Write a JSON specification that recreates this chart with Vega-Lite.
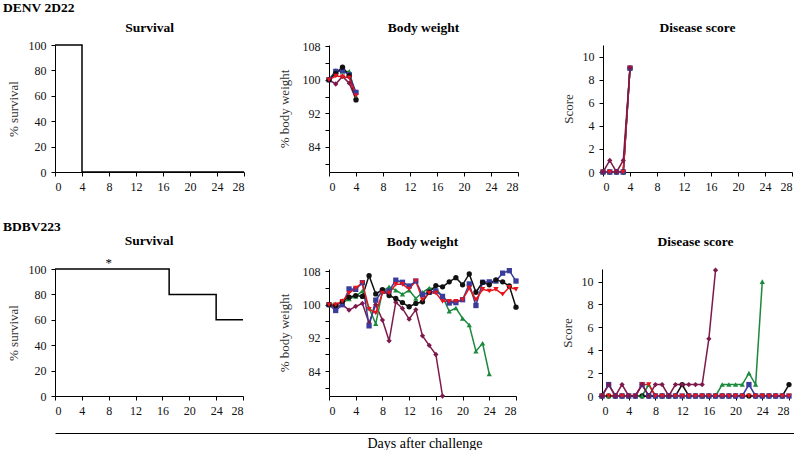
{
  "$schema": "https://vega.github.io/schema/vega-lite/v6.json",
  "padding": {"left": 3, "top": 1, "right": 0, "bottom": 0},
  "config": {
    "font": "Liberation Serif",
    "view": {"stroke": null},
    "axis": {"grid": false, "domainColor": "#000", "tickColor": "#000", "labelColor": "#111", "labelFont": "Liberation Serif", "labelFontSize": 12, "titleFont": "Liberation Serif", "titleFontSize": 13, "titleFontWeight": "normal", "titleColor": "#333", "tickSize": 4, "labelPadding": 5, "domainWidth": 1},
    "style": {"guide-label": {"font": "Liberation Serif"}, "guide-title": {"font": "Liberation Serif"}, "group-title": {"font": "Liberation Serif"}},
    "title": {"font": "Liberation Serif", "fontSize": 13.5, "fontWeight": "bold", "color": "#000", "offset": 5}
  },
  "datasets": {
    "sv1": [{"day": 0, "pct": 100}, {"day": 4, "pct": 0}, {"day": 28, "pct": 0}],
    "sv2": [{"day": 0, "pct": 100}, {"day": 17, "pct": 80}, {"day": 24, "pct": 60}, {"day": 28, "pct": 60}],
    "star": [{"day": 8, "pct": 100, "label": "*"}],
    "bw1": [
      {"mouse": "M5", "day": 0, "weight": 100}, {"mouse": "M5", "day": 1, "weight": 99}, {"mouse": "M5", "day": 2, "weight": 100.8}, {"mouse": "M5", "day": 3, "weight": 99.2}, {"mouse": "M5", "day": 4, "weight": 95.3},
      {"mouse": "M3", "day": 0, "weight": 100}, {"mouse": "M3", "day": 1, "weight": 102.2}, {"mouse": "M3", "day": 2, "weight": 102}, {"mouse": "M3", "day": 3, "weight": 102}, {"mouse": "M3", "day": 4, "weight": 96},
      {"mouse": "M2", "day": 0, "weight": 100}, {"mouse": "M2", "day": 1, "weight": 102}, {"mouse": "M2", "day": 2, "weight": 102.2}, {"mouse": "M2", "day": 3, "weight": 101.2}, {"mouse": "M2", "day": 4, "weight": 97}, 
      {"mouse": "M1", "day": 0, "weight": 100}, {"mouse": "M1", "day": 1, "weight": 101.5}, {"mouse": "M1", "day": 2, "weight": 103}, {"mouse": "M1", "day": 3, "weight": 101}, {"mouse": "M1", "day": 4, "weight": 95.2},
      {"mouse": "M4", "day": 0, "weight": 100}, {"mouse": "M4", "day": 1, "weight": 100.9}, {"mouse": "M4", "day": 2, "weight": 100.7}, {"mouse": "M4", "day": 3, "weight": 100.5}, {"mouse": "M4", "day": 4, "weight": 96.2}
    ],
    "ds1": [
      {"mouse": "M1", "day": 0, "score": 0}, {"mouse": "M1", "day": 1, "score": 0}, {"mouse": "M1", "day": 2, "score": 0}, {"mouse": "M1", "day": 3, "score": 0}, {"mouse": "M1", "day": 4, "score": 9},
      {"mouse": "M3", "day": 0, "score": 0}, {"mouse": "M3", "day": 1, "score": 0}, {"mouse": "M3", "day": 2, "score": 0}, {"mouse": "M3", "day": 3, "score": 0}, {"mouse": "M3", "day": 4, "score": 9},
      {"mouse": "M2", "day": 0, "score": 0}, {"mouse": "M2", "day": 1, "score": 0}, {"mouse": "M2", "day": 2, "score": 0}, {"mouse": "M2", "day": 3, "score": 0}, {"mouse": "M2", "day": 4, "score": 9},
      {"mouse": "M4", "day": 0, "score": 0}, {"mouse": "M4", "day": 1, "score": 0}, {"mouse": "M4", "day": 2, "score": 0}, {"mouse": "M4", "day": 3, "score": 0}, {"mouse": "M4", "day": 4, "score": 9},
      {"mouse": "M5", "day": 0, "score": 0}, {"mouse": "M5", "day": 1, "score": 1}, {"mouse": "M5", "day": 2, "score": 0}, {"mouse": "M5", "day": 3, "score": 1}, {"mouse": "M5", "day": 4, "score": 9}
    ],
    "bw2": [
      {"mouse": "M5", "day": 0, "weight": 100}, {"mouse": "M5", "day": 1, "weight": 99.4}, {"mouse": "M5", "day": 2, "weight": 100}, {"mouse": "M5", "day": 3, "weight": 98.7}, {"mouse": "M5", "day": 4, "weight": 99.6}, {"mouse": "M5", "day": 5, "weight": 100.3}, {"mouse": "M5", "day": 6, "weight": 95.6}, {"mouse": "M5", "day": 7, "weight": 100}, {"mouse": "M5", "day": 8, "weight": 96.3}, {"mouse": "M5", "day": 9, "weight": 91.3}, {"mouse": "M5", "day": 10, "weight": 100.6}, {"mouse": "M5", "day": 11, "weight": 99.1}, {"mouse": "M5", "day": 12, "weight": 96.5}, {"mouse": "M5", "day": 13, "weight": 98.8}, {"mouse": "M5", "day": 14, "weight": 92.5}, {"mouse": "M5", "day": 15, "weight": 90.2}, {"mouse": "M5", "day": 16, "weight": 88}, {"mouse": "M5", "day": 17, "weight": 78},
      {"mouse": "M3", "day": 0, "weight": 100}, {"mouse": "M3", "day": 1, "weight": 100.2}, {"mouse": "M3", "day": 2, "weight": 100.4}, {"mouse": "M3", "day": 3, "weight": 101.4}, {"mouse": "M3", "day": 4, "weight": 102}, {"mouse": "M3", "day": 5, "weight": 103.3}, {"mouse": "M3", "day": 6, "weight": 99.2}, {"mouse": "M3", "day": 7, "weight": 95.4}, {"mouse": "M3", "day": 8, "weight": 103.2}, {"mouse": "M3", "day": 9, "weight": 104.3}, {"mouse": "M3", "day": 10, "weight": 103.5}, {"mouse": "M3", "day": 11, "weight": 102.5}, {"mouse": "M3", "day": 12, "weight": 103.5}, {"mouse": "M3", "day": 13, "weight": 101.5}, {"mouse": "M3", "day": 14, "weight": 103}, {"mouse": "M3", "day": 15, "weight": 104}, {"mouse": "M3", "day": 16, "weight": 103.8}, {"mouse": "M3", "day": 17, "weight": 102}, {"mouse": "M3", "day": 18, "weight": 98.4}, {"mouse": "M3", "day": 19, "weight": 99.2}, {"mouse": "M3", "day": 20, "weight": 96.7}, {"mouse": "M3", "day": 21, "weight": 95.1}, {"mouse": "M3", "day": 22, "weight": 88.8}, {"mouse": "M3", "day": 23, "weight": 90.7}, {"mouse": "M3", "day": 24, "weight": 83.3},
      {"mouse": "M2", "day": 0, "weight": 100}, {"mouse": "M2", "day": 1, "weight": 98.6}, {"mouse": "M2", "day": 2, "weight": 100}, {"mouse": "M2", "day": 3, "weight": 103.8}, {"mouse": "M2", "day": 4, "weight": 103.7}, {"mouse": "M2", "day": 5, "weight": 105.3}, {"mouse": "M2", "day": 6, "weight": 94.9}, {"mouse": "M2", "day": 7, "weight": 101.1}, {"mouse": "M2", "day": 8, "weight": 103.3}, {"mouse": "M2", "day": 9, "weight": 103.3}, {"mouse": "M2", "day": 10, "weight": 105.9}, {"mouse": "M2", "day": 11, "weight": 105.4}, {"mouse": "M2", "day": 12, "weight": 104.5}, {"mouse": "M2", "day": 13, "weight": 105.7}, {"mouse": "M2", "day": 14, "weight": 102.4}, {"mouse": "M2", "day": 15, "weight": 103}, {"mouse": "M2", "day": 16, "weight": 103.3}, {"mouse": "M2", "day": 17, "weight": 102}, {"mouse": "M2", "day": 18, "weight": 100.4}, {"mouse": "M2", "day": 19, "weight": 100.5}, {"mouse": "M2", "day": 20, "weight": 101.2}, {"mouse": "M2", "day": 21, "weight": 105}, {"mouse": "M2", "day": 22, "weight": 99.8}, {"mouse": "M2", "day": 23, "weight": 105.4}, {"mouse": "M2", "day": 24, "weight": 105.5}, {"mouse": "M2", "day": 25, "weight": 105.7}, {"mouse": "M2", "day": 26, "weight": 107.6}, {"mouse": "M2", "day": 27, "weight": 108.2}, {"mouse": "M2", "day": 28, "weight": 105.7},
      {"mouse": "M1", "day": 0, "weight": 100}, {"mouse": "M1", "day": 1, "weight": 99.8}, {"mouse": "M1", "day": 2, "weight": 100.8}, {"mouse": "M1", "day": 3, "weight": 101.8}, {"mouse": "M1", "day": 4, "weight": 102.2}, {"mouse": "M1", "day": 5, "weight": 102}, {"mouse": "M1", "day": 6, "weight": 107}, {"mouse": "M1", "day": 7, "weight": 102.6}, {"mouse": "M1", "day": 8, "weight": 103.6}, {"mouse": "M1", "day": 9, "weight": 102.2}, {"mouse": "M1", "day": 10, "weight": 101.5}, {"mouse": "M1", "day": 11, "weight": 100.5}, {"mouse": "M1", "day": 12, "weight": 99.5}, {"mouse": "M1", "day": 13, "weight": 100.3}, {"mouse": "M1", "day": 14, "weight": 100.7}, {"mouse": "M1", "day": 15, "weight": 103}, {"mouse": "M1", "day": 16, "weight": 104.6}, {"mouse": "M1", "day": 17, "weight": 104.3}, {"mouse": "M1", "day": 18, "weight": 105.5}, {"mouse": "M1", "day": 19, "weight": 106.5}, {"mouse": "M1", "day": 20, "weight": 104.8}, {"mouse": "M1", "day": 21, "weight": 107.4}, {"mouse": "M1", "day": 22, "weight": 103}, {"mouse": "M1", "day": 23, "weight": 105.4}, {"mouse": "M1", "day": 24, "weight": 104.8}, {"mouse": "M1", "day": 25, "weight": 106}, {"mouse": "M1", "day": 26, "weight": 105.5}, {"mouse": "M1", "day": 27, "weight": 104.5}, {"mouse": "M1", "day": 28, "weight": 99.4},
      {"mouse": "M4", "day": 0, "weight": 100}, {"mouse": "M4", "day": 1, "weight": 100}, {"mouse": "M4", "day": 2, "weight": 100.8}, {"mouse": "M4", "day": 3, "weight": 102.8}, {"mouse": "M4", "day": 4, "weight": 104}, {"mouse": "M4", "day": 5, "weight": 105.3}, {"mouse": "M4", "day": 6, "weight": 98.9}, {"mouse": "M4", "day": 7, "weight": 98}, {"mouse": "M4", "day": 8, "weight": 102.8}, {"mouse": "M4", "day": 9, "weight": 102.8}, {"mouse": "M4", "day": 10, "weight": 104.9}, {"mouse": "M4", "day": 11, "weight": 104.9}, {"mouse": "M4", "day": 12, "weight": 103.8}, {"mouse": "M4", "day": 13, "weight": 105.7}, {"mouse": "M4", "day": 14, "weight": 101.2}, {"mouse": "M4", "day": 15, "weight": 102.8}, {"mouse": "M4", "day": 16, "weight": 102.8}, {"mouse": "M4", "day": 17, "weight": 100.8}, {"mouse": "M4", "day": 18, "weight": 100.8}, {"mouse": "M4", "day": 19, "weight": 100.8}, {"mouse": "M4", "day": 20, "weight": 101.2}, {"mouse": "M4", "day": 21, "weight": 104}, {"mouse": "M4", "day": 22, "weight": 101.2}, {"mouse": "M4", "day": 23, "weight": 103.7}, {"mouse": "M4", "day": 24, "weight": 103.3}, {"mouse": "M4", "day": 25, "weight": 103.7}, {"mouse": "M4", "day": 26, "weight": 102.5}, {"mouse": "M4", "day": 27, "weight": 104.2}, {"mouse": "M4", "day": 28, "weight": 103.7}
    ],
    "ds2": [
      {"mouse": "M1", "day": 0, "score": 0}, {"mouse": "M1", "day": 1, "score": 0}, {"mouse": "M1", "day": 2, "score": 0}, {"mouse": "M1", "day": 3, "score": 0}, {"mouse": "M1", "day": 4, "score": 0}, {"mouse": "M1", "day": 5, "score": 0}, {"mouse": "M1", "day": 6, "score": 0}, {"mouse": "M1", "day": 7, "score": 0}, {"mouse": "M1", "day": 8, "score": 0}, {"mouse": "M1", "day": 9, "score": 0}, {"mouse": "M1", "day": 10, "score": 0}, {"mouse": "M1", "day": 11, "score": 0}, {"mouse": "M1", "day": 12, "score": 1}, {"mouse": "M1", "day": 13, "score": 0}, {"mouse": "M1", "day": 14, "score": 0}, {"mouse": "M1", "day": 15, "score": 0}, {"mouse": "M1", "day": 16, "score": 0}, {"mouse": "M1", "day": 17, "score": 0}, {"mouse": "M1", "day": 18, "score": 0}, {"mouse": "M1", "day": 19, "score": 0}, {"mouse": "M1", "day": 20, "score": 0}, {"mouse": "M1", "day": 21, "score": 0}, {"mouse": "M1", "day": 22, "score": 0}, {"mouse": "M1", "day": 23, "score": 0}, {"mouse": "M1", "day": 24, "score": 0}, {"mouse": "M1", "day": 25, "score": 0}, {"mouse": "M1", "day": 26, "score": 0}, {"mouse": "M1", "day": 27, "score": 0}, {"mouse": "M1", "day": 28, "score": 1},
      {"mouse": "M3", "day": 0, "score": 0}, {"mouse": "M3", "day": 1, "score": 0}, {"mouse": "M3", "day": 2, "score": 0}, {"mouse": "M3", "day": 3, "score": 0}, {"mouse": "M3", "day": 4, "score": 0}, {"mouse": "M3", "day": 5, "score": 0}, {"mouse": "M3", "day": 6, "score": 0}, {"mouse": "M3", "day": 7, "score": 1}, {"mouse": "M3", "day": 8, "score": 0}, {"mouse": "M3", "day": 9, "score": 0}, {"mouse": "M3", "day": 10, "score": 0}, {"mouse": "M3", "day": 11, "score": 0}, {"mouse": "M3", "day": 12, "score": 0}, {"mouse": "M3", "day": 13, "score": 0}, {"mouse": "M3", "day": 14, "score": 0}, {"mouse": "M3", "day": 15, "score": 0}, {"mouse": "M3", "day": 16, "score": 0}, {"mouse": "M3", "day": 17, "score": 0}, {"mouse": "M3", "day": 18, "score": 1}, {"mouse": "M3", "day": 19, "score": 1}, {"mouse": "M3", "day": 20, "score": 1}, {"mouse": "M3", "day": 21, "score": 1}, {"mouse": "M3", "day": 22, "score": 2}, {"mouse": "M3", "day": 23, "score": 1}, {"mouse": "M3", "day": 24, "score": 10},
      {"mouse": "M2", "day": 0, "score": 0}, {"mouse": "M2", "day": 1, "score": 1}, {"mouse": "M2", "day": 2, "score": 0}, {"mouse": "M2", "day": 3, "score": 0}, {"mouse": "M2", "day": 4, "score": 0}, {"mouse": "M2", "day": 5, "score": 0}, {"mouse": "M2", "day": 6, "score": 1}, {"mouse": "M2", "day": 7, "score": 0}, {"mouse": "M2", "day": 8, "score": 0}, {"mouse": "M2", "day": 9, "score": 0}, {"mouse": "M2", "day": 10, "score": 0}, {"mouse": "M2", "day": 11, "score": 0}, {"mouse": "M2", "day": 12, "score": 0}, {"mouse": "M2", "day": 13, "score": 0}, {"mouse": "M2", "day": 14, "score": 0}, {"mouse": "M2", "day": 15, "score": 0}, {"mouse": "M2", "day": 16, "score": 0}, {"mouse": "M2", "day": 17, "score": 0}, {"mouse": "M2", "day": 18, "score": 0}, {"mouse": "M2", "day": 19, "score": 0}, {"mouse": "M2", "day": 20, "score": 0}, {"mouse": "M2", "day": 21, "score": 0}, {"mouse": "M2", "day": 22, "score": 1}, {"mouse": "M2", "day": 23, "score": 0}, {"mouse": "M2", "day": 24, "score": 0}, {"mouse": "M2", "day": 25, "score": 0}, {"mouse": "M2", "day": 26, "score": 0}, {"mouse": "M2", "day": 27, "score": 0}, {"mouse": "M2", "day": 28, "score": 0},
      {"mouse": "M4", "day": 0, "score": 0}, {"mouse": "M4", "day": 1, "score": 0}, {"mouse": "M4", "day": 2, "score": 0}, {"mouse": "M4", "day": 3, "score": 0}, {"mouse": "M4", "day": 4, "score": 0}, {"mouse": "M4", "day": 5, "score": 0}, {"mouse": "M4", "day": 6, "score": 1}, {"mouse": "M4", "day": 7, "score": 1}, {"mouse": "M4", "day": 8, "score": 0}, {"mouse": "M4", "day": 9, "score": 0}, {"mouse": "M4", "day": 10, "score": 0}, {"mouse": "M4", "day": 11, "score": 0}, {"mouse": "M4", "day": 12, "score": 0}, {"mouse": "M4", "day": 13, "score": 0}, {"mouse": "M4", "day": 14, "score": 0}, {"mouse": "M4", "day": 15, "score": 0}, {"mouse": "M4", "day": 16, "score": 0}, {"mouse": "M4", "day": 17, "score": 0}, {"mouse": "M4", "day": 18, "score": 0}, {"mouse": "M4", "day": 19, "score": 0}, {"mouse": "M4", "day": 20, "score": 0}, {"mouse": "M4", "day": 21, "score": 0}, {"mouse": "M4", "day": 22, "score": 0}, {"mouse": "M4", "day": 23, "score": 0}, {"mouse": "M4", "day": 24, "score": 0}, {"mouse": "M4", "day": 25, "score": 0}, {"mouse": "M4", "day": 26, "score": 0}, {"mouse": "M4", "day": 27, "score": 0}, {"mouse": "M4", "day": 28, "score": 0},
      {"mouse": "M5", "day": 0, "score": 0}, {"mouse": "M5", "day": 1, "score": 1}, {"mouse": "M5", "day": 2, "score": 0}, {"mouse": "M5", "day": 3, "score": 1}, {"mouse": "M5", "day": 4, "score": 0}, {"mouse": "M5", "day": 5, "score": 0}, {"mouse": "M5", "day": 6, "score": 1}, {"mouse": "M5", "day": 7, "score": 0}, {"mouse": "M5", "day": 8, "score": 1}, {"mouse": "M5", "day": 9, "score": 1}, {"mouse": "M5", "day": 10, "score": 0}, {"mouse": "M5", "day": 11, "score": 1}, {"mouse": "M5", "day": 12, "score": 1}, {"mouse": "M5", "day": 13, "score": 1}, {"mouse": "M5", "day": 14, "score": 1}, {"mouse": "M5", "day": 15, "score": 1}, {"mouse": "M5", "day": 16, "score": 5}, {"mouse": "M5", "day": 17, "score": 11}
    ],
    "axisline": [{"x": 0}, {"x": 1}]
  },
  "vconcat": [
    {
      "title": {"text": "DENV 2D22", "anchor": "start", "dx": -4, "offset": 6},
      "hconcat": [
        {
          "title": {"text": "Survival", "offset": 5},
          "width": 189, "height": 127,
          "data": {"name": "sv1"},
          "mark": {"type": "line", "interpolate": "step-after", "color": "#000", "strokeWidth": 1.5},
          "encoding": {
            "x": {"field": "day", "type": "quantitative", "scale": {"domain": [0, 28]}, "axis": {"values": [0, 4, 8, 12, 16, 20, 24, 28], "title": null, "labelFont": "Liberation Serif"}},
            "y": {"field": "pct", "type": "quantitative", "scale": {"domain": [0, 100]}, "axis": {"values": [0, 20, 40, 60, 80, 100], "title": "% survival", "titlePadding": 8, "labelFont": "Liberation Serif"}}
          }
        },
        {
          "title": {"text": "Body weight", "offset": 6},
          "width": 189, "height": 127,
          "data": {"name": "bw1"},
          "encoding": {
            "x": {"field": "day", "type": "quantitative", "scale": {"domain": [0, 28]}, "axis": {"values": [0, 4, 8, 12, 16, 20, 24, 28], "title": null, "labelFont": "Liberation Serif"}},
            "y": {"field": "weight", "type": "quantitative", "scale": {"domain": [78, 108.3]}, "axis": {"values": [80, 84, 88, 92, 96, 100, 104, 108], "labelExpr": "datum.value % 8 == 4 ? datum.label : ''", "title": "% body weight", "titlePadding": 11, "labelFont": "Liberation Serif"}},
            "color": {"field": "mouse", "type": "nominal", "scale": {"domain": ["M1", "M2", "M3", "M4", "M5"], "range": ["#111111", "#3a3c9c", "#1b8a3c", "#e8131b", "#7c1a4b"]}, "legend": null}
          },
          "layer": [
            {"mark": {"type": "line", "strokeWidth": 1.5}},
            {"mark": {"type": "point", "filled": true, "opacity": 1, "size": 28}, "encoding": {"shape": {"field": "mouse", "type": "nominal", "scale": {"domain": ["M1", "M2", "M3", "M4", "M5"], "range": ["circle", "square", "triangle-up", "triangle-down", "diamond"]}, "legend": null}}}
          ]
        },
        {
          "title": {"text": "Disease score", "offset": 11},
          "width": 189, "height": 127,
          "data": {"name": "ds1"},
          "encoding": {
            "x": {"field": "day", "type": "quantitative", "scale": {"domain": [0, 28]}, "axis": {"values": [0, 4, 8, 12, 16, 20, 24, 28], "title": null, "labelFont": "Liberation Serif"}},
            "y": {"field": "score", "type": "quantitative", "scale": {"domain": [0, 11]}, "axis": {"values": [0, 2, 4, 6, 8, 10], "title": "Score", "titlePadding": 7, "labelFont": "Liberation Serif"}},
            "color": {"field": "mouse", "type": "nominal", "scale": {"domain": ["M1", "M2", "M3", "M4", "M5"], "range": ["#111111", "#3a3c9c", "#1b8a3c", "#e8131b", "#7b2d8b"]}, "legend": null}
          },
          "layer": [
            {"mark": {"type": "line", "strokeWidth": 1.5}},
            {"mark": {"type": "point", "filled": true, "opacity": 1, "size": 28}, "encoding": {"shape": {"field": "mouse", "type": "nominal", "scale": {"domain": ["M1", "M2", "M3", "M4", "M5"], "range": ["circle", "square", "triangle-up", "triangle-down", "diamond"]}, "legend": null}}}
          ]
        }
      ],
      "spacing": 85,
      "bounds": "flush"
    },
    {
      "vconcat": [
        {
          "title": {"text": "BDBV223", "anchor": "start", "dx": -4, "offset": 0},
          "hconcat": [
            {
              "title": {"text": "Survival", "offset": 10},
              "width": 188, "height": 127,
              "data": {"name": "sv2"},
              "encoding": {
                "x": {"field": "day", "type": "quantitative", "scale": {"domain": [0, 28]}, "axis": {"values": [0, 4, 8, 12, 16, 20, 24, 28], "title": null, "labelFont": "Liberation Serif"}},
                "y": {"field": "pct", "type": "quantitative", "scale": {"domain": [0, 100]}, "axis": {"values": [0, 20, 40, 60, 80, 100], "title": "% survival", "titlePadding": 8, "labelFont": "Liberation Serif"}}
              },
              "layer": [
                {"mark": {"type": "line", "interpolate": "step-after", "color": "#000", "strokeWidth": 1.5}},
                {"data": {"name": "star"}, "mark": {"type": "text", "dy": -6, "fontSize": 13, "color": "#000", "fill": "#000"}, "encoding": {"text": {"field": "label"}}}
              ]
            },
            {
              "title": {"text": "Body weight", "offset": 17},
              "width": 187, "height": 127,
              "data": {"name": "bw2"},
              "encoding": {
                "x": {"field": "day", "type": "quantitative", "scale": {"domain": [0, 28]}, "axis": {"values": [0, 4, 8, 12, 16, 20, 24, 28], "title": null, "labelFont": "Liberation Serif"}},
                "y": {"field": "weight", "type": "quantitative", "scale": {"domain": [78, 108.6]}, "axis": {"values": [80, 84, 88, 92, 96, 100, 104, 108], "labelExpr": "datum.value % 8 == 4 ? datum.label : ''", "title": "% body weight", "titlePadding": 11, "labelFont": "Liberation Serif"}},
                "color": {"field": "mouse", "type": "nominal", "scale": {"domain": ["M1", "M2", "M3", "M4", "M5"], "range": ["#111111", "#3a3c9c", "#1b8a3c", "#e8131b", "#7c1a4b"]}, "legend": null}
              },
              "layer": [
                {"mark": {"type": "line", "strokeWidth": 1.5}},
                {"mark": {"type": "point", "filled": true, "opacity": 1, "size": 28}, "encoding": {"shape": {"field": "mouse", "type": "nominal", "scale": {"domain": ["M1", "M2", "M3", "M4", "M5"], "range": ["circle", "square", "triangle-up", "triangle-down", "diamond"]}, "legend": null}}}
              ]
            },
            {
              "title": {"text": "Disease score", "offset": 19},
              "width": 187, "height": 127,
              "data": {"name": "ds2"},
              "encoding": {
                "x": {"field": "day", "type": "quantitative", "scale": {"domain": [0, 28]}, "axis": {"values": [0, 4, 8, 12, 16, 20, 24, 28], "title": null, "labelFont": "Liberation Serif"}},
                "y": {"field": "score", "type": "quantitative", "scale": {"domain": [0, 11.1]}, "axis": {"values": [0, 2, 4, 6, 8, 10], "title": "Score", "titlePadding": 7, "labelFont": "Liberation Serif"}},
                "color": {"field": "mouse", "type": "nominal", "scale": {"domain": ["M1", "M2", "M3", "M4", "M5"], "range": ["#111111", "#3a3c9c", "#1b8a3c", "#e8131b", "#7b2d8b"]}, "legend": null}
              },
              "layer": [
                {"mark": {"type": "line", "strokeWidth": 1.5}},
                {"mark": {"type": "point", "filled": true, "opacity": 1, "size": 28}, "encoding": {"shape": {"field": "mouse", "type": "nominal", "scale": {"domain": ["M1", "M2", "M3", "M4", "M5"], "range": ["circle", "square", "triangle-up", "triangle-down", "diamond"]}, "legend": null}}}
              ]
            }
          ],
          "spacing": 86,
          "bounds": "flush"
        },
        {
          "width": 739, "height": 1,
          "data": {"name": "axisline"},
          "mark": {"type": "point", "opacity": 0},
          "encoding": {
            "x": {"field": "x", "type": "quantitative", "scale": {"domain": [0, 1]}, "axis": {"title": "Days after challenge", "labels": false, "ticks": false, "titlePadding": 3, "titleColor": "#000", "titleFontSize": 14}}
          }
        }
      ],
      "spacing": 13
    }
  ],
  "spacing": 28
}
